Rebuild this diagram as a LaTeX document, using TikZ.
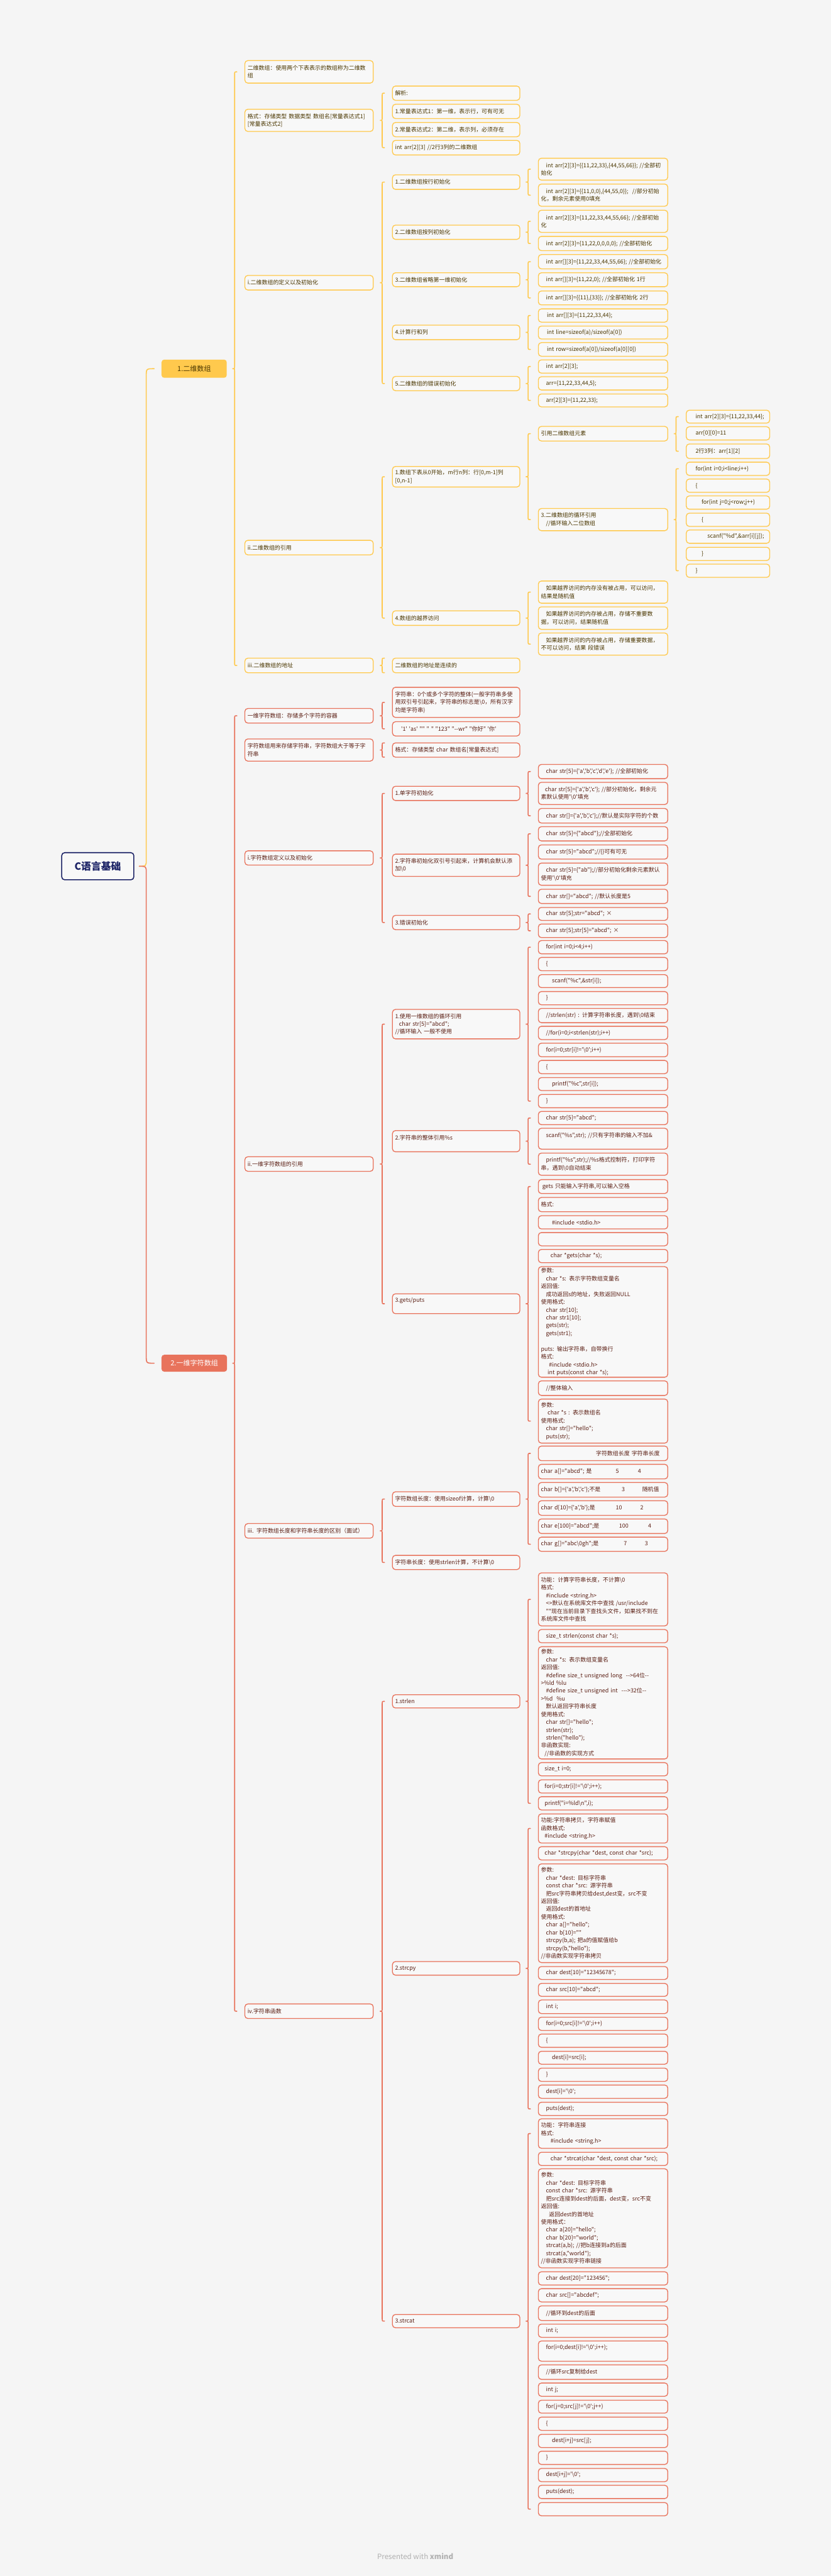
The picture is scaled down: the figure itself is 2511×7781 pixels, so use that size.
\documentclass[tikz,border=0pt]{standalone}
\usepackage{fontspec}
\newfontfamily\cjk{Noto Sans CJK SC}
\usetikzlibrary{calc}
\definecolor{bg}{HTML}{F5F5F5}
\definecolor{bfill}{HTML}{F8F8F8}
\definecolor{ycol}{HTML}{FFC94D}
\definecolor{ytxt}{HTML}{4A3600}
\definecolor{ocol}{HTML}{E8735C}
\definecolor{otxt}{HTML}{5A1D12}
\definecolor{navy}{HTML}{1C2366}
\definecolor{foot}{HTML}{B0B0B0}
\newcommand\fixrs{\rightskip=0pt plus 1fil minus 200pt\relax}
\newcommand\nb[6]{\node[#1,minimum height=#5pt] (#2) at (#3,#4) {\fixrs #6};}
\newcommand\brc[4]{\draw[#1] let \p1=(#3), \p2=(#4), \p3=(#2.east) in
 (\x1-24pt,\y1) .. controls (\x1-31pt,\y1) .. (\x1-31pt,\y1-8pt) -- (\x1-31pt,\y3+8pt)
 .. controls (\x1-31pt,\y3) .. (\x1-38pt,\y3) .. controls (\x1-31pt,\y3) .. (\x1-31pt,\y3-8pt)
 -- (\x1-31pt,\y2+8pt) .. controls (\x1-31pt,\y2) .. (\x1-24pt,\y2);}
\tikzset{
 bxbase/.style={draw, rounded corners=9pt, line width=2.5pt, fill=bfill, inner xsep=8pt, inner ysep=2pt,
   align=left, font=\cjk\fontsize{17}{23.6}\selectfont, anchor=north west, outer sep=0pt},
 Y2/.style={bxbase, draw=ycol, text=ytxt, text width=372pt},
 Y3/.style={bxbase, draw=ycol, text=ytxt, text width=369pt},
 Y4/.style={bxbase, draw=ycol, text=ytxt, text width=375pt},
 Y5/.style={bxbase, draw=ycol, text=ytxt, text width=236pt},
 O2/.style={bxbase, draw=ocol, text=otxt, text width=372pt},
 O3/.style={bxbase, draw=ocol, text=otxt, text width=369pt},
 O4/.style={bxbase, draw=ocol, text=otxt, text width=375pt},
 yl/.style={draw=ycol, line width=3pt, line cap=round},
 ol/.style={draw=ocol, line width=3pt, line cap=round},
 lone/.style={rounded corners=8pt, anchor=north west, align=center, inner sep=0pt,
   font=\cjk\fontsize{21}{25}\selectfont},
}
\begin{document}
\begin{tikzpicture}[x=1pt,y=-1pt]
\useasboundingbox (0,0) rectangle (2511,7781);
\fill[bg] (0,0) rectangle (2511,7781);

% root and level 1
\node[draw=navy, line width=3pt, rounded corners=9pt, fill=bfill, text=navy, anchor=north west,
  minimum width=218pt, minimum height=82pt, inner sep=0pt,
  font=\cjk\fontsize{30}{34}\selectfont\bfseries] (root) at (185,2574) {C语言基础};
\node[lone, fill=ycol, text=ytxt, minimum width=197pt, minimum height=55pt] (Y) at (488,1086) {1.二维数组};
\node[lone, fill=ocol, text=white, minimum width=198pt, minimum height=51pt] (O) at (488,4092) {2.一维字符数组};
\draw[yl] let \p1=(Y.west), \p3=(root.east) in (\x1-67pt,\y3) .. controls (\x1-46pt,\y3) .. (\x1-46pt,\y3+21pt) -- (\x1-46pt,\y1-22pt) .. controls (\x1-46pt,\y1) .. (\x1-22pt,\y1);
\draw[ol] let \p1=(O.west), \p3=(root.east) in (\x1-67pt,\y3) .. controls (\x1-46pt,\y3) .. (\x1-46pt,\y3-21pt) -- (\x1-46pt,\y1+22pt) .. controls (\x1-46pt,\y1) .. (\x1-22pt,\y1);

% ===== yellow branch =====
\nb{Y2}{a1}{740}{183}{68}{二维数组：使用两个下表表示的数组称为二维数\\组}
\nb{Y2}{a2}{740}{330}{67}{格式：存储类型 数据类型 数组名[常量表达式1]\\{}[常量表达式2]}
\nb{Y2}{a3}{740}{832}{44}{i.二维数组的定义以及初始化}
\nb{Y2}{a4}{740}{1632}{44}{ii.二维数组的引用}
\nb{Y2}{a5}{740}{1988}{44}{iii.二维数组的地址}

\nb{Y3}{b1}{1186}{260}{43}{解析:}
\nb{Y3}{b2}{1186}{315}{43}{1.常量表达式1：第一维，表示行，可有可无}
\nb{Y3}{b3}{1186}{370}{43}{2.常量表达式2：第二维，表示列，必须存在}
\nb{Y3}{b4}{1186}{424}{44}{int arr[2][3] //2行3列的二维数组}

\nb{Y3}{c1}{1186}{528}{44}{1.二维数组按行初始化}
\nb{Y3}{c2}{1186}{680}{43}{2.二维数组按列初始化}
\nb{Y3}{c3}{1186}{824}{42}{3.二维数组省略第一维初始化}
\nb{Y3}{c4}{1186}{982}{44}{4.计算行和列}
\nb{Y3}{c5}{1186}{1137}{43}{5.二维数组的错误初始化}

\nb{Y4}{d1}{1627}{478}{66}{\hspace*{15pt}int arr[2][3]=\{\{11,22,33\},\{44,55,66\}\}; //全部初\\始化}
\nb{Y4}{d2}{1627}{556}{67}{\hspace*{15pt}int arr[2][3]=\{\{11,0,0\},\{44,55,0\}\};\hspace{12pt}//部分初始\\化，剩余元素使用0填充}
\nb{Y4}{d3}{1627}{635}{67}{\hspace*{15pt}int arr[2][3]=\{11,22,33,44,55,66\}; //全部初始\\化}
\nb{Y4}{d4}{1627}{714}{43}{\hspace*{15pt}int arr[2][3]=\{11,22,0,0,0,0\}; //全部初始化}
\nb{Y4}{d5}{1627}{769}{43}{\hspace*{15pt}int arr[][3]=\{11,22,33,44,55,66\}; //全部初始化}
\nb{Y4}{d6}{1627}{824}{42}{\hspace*{15pt}int arr[][3]=\{11,22,0\}; //全部初始化 1行}
\nb{Y4}{d7}{1627}{879}{42}{\hspace*{15pt}int arr[][3]=\{\{11\},\{33\}\}; //全部初始化 2行}
\nb{Y4}{d8}{1627}{933}{40}{\hspace*{18pt}int arr[][3]=\{11,22,33,44\};}
\nb{Y4}{d9}{1627}{985}{39}{\hspace*{18pt}int line=sizeof(a)/sizeof(a[0])}
\nb{Y4}{d10}{1627}{1035}{41}{\hspace*{18pt}int row=sizeof(a[0])/sizeof(a[0][0])}
\nb{Y4}{d11}{1627}{1087}{40}{\hspace*{15pt}int arr[2][3];}
\nb{Y4}{d12}{1627}{1138}{40}{\hspace*{15pt}arr=\{11,22,33,44,5\};}
\nb{Y4}{d13}{1627}{1190}{39}{\hspace*{15pt}arr[2][3]=\{11,22,33\};}

\nb{Y3}{e1}{1186}{1409}{62}{1.数组下表从0开始，m行n列：行[0,m-1]列\\{}[0,n-1]}
\nb{Y3}{e2}{1186}{1845}{44}{4.数组的越界访问}
\nb{Y3}{e3}{1186}{1988}{44}{二维数组的地址是连续的}

\nb{Y4}{f1}{1627}{1288}{44}{引用二维数组元素}
\nb{Y4}{f2}{1627}{1536}{67}{3.二维数组的循环引用\\\hspace*{15pt}//循环输入二位数组}
\nb{Y4}{f3}{1627}{1755}{67}{\hspace*{15pt}如果越界访问的内存没有被占用，可以访问，\\结果是随机值}
\nb{Y4}{f4}{1627}{1833}{68}{\hspace*{15pt}如果越界访问的内存被占用，存储不重要数\\据，可以访问，结果随机值}
\nb{Y4}{f5}{1627}{1912}{67}{\hspace*{15pt}如果越界访问的内存被占用，存储重要数据，\\不可以访问，结果 段错误}

\nb{Y5}{g1}{2074}{1239}{39}{\hspace*{20pt}int arr[2][3]=\{11,22,33,44\};}
\nb{Y5}{g2}{2074}{1289}{40}{\hspace*{20pt}arr[0][0]=11}
\nb{Y5}{g3}{2074}{1341}{44}{\hspace*{20pt}2行3列：arr[1][2]}
\nb{Y5}{g4}{2074}{1396}{40}{\hspace*{20pt}for(int i=0;i<line;i++)}
\nb{Y5}{g5}{2074}{1447}{40}{\hspace*{20pt}\{}
\nb{Y5}{g6}{2074}{1498}{40}{\hspace*{38pt}for(int j=0;j<row;j++)}
\nb{Y5}{g7}{2074}{1550}{40}{\hspace*{38pt}\{}
\nb{Y5}{g8}{2074}{1601}{40}{\hspace*{56pt}scanf("\%d",\&arr[i][j]);}
\nb{Y5}{g9}{2074}{1653}{40}{\hspace*{38pt}\}}
\nb{Y5}{g10}{2074}{1704}{40}{\hspace*{20pt}\}}

\brc{yl}{Y}{a1.west}{a5.west}
\brc{yl}{a2}{b1.west}{b4.west}
\brc{yl}{a3}{c1.west}{c5.west}
\brc{yl}{c1}{d1.west}{d2.west}
\brc{yl}{c2}{d3.west}{d4.west}
\brc{yl}{c3}{d5.west}{d7.west}
\brc{yl}{c4}{d8.west}{d10.west}
\brc{yl}{c5}{d11.west}{d13.west}
\brc{yl}{a4}{e1.west}{e2.west}
\brc{yl}{e1}{f1.west}{f2.west}
\brc{yl}{f1}{g1.west}{g3.west}
\brc{yl}{f2}{g4.west}{g10.west}
\brc{yl}{e2}{f3.west}{f5.west}
\brc{yl}{a5}{e3.north west}{e3.south west}

% ===== orange branch =====
\nb{O2}{p1}{740}{2140}{44}{一维字符数组：存储多个字符的容器}
\nb{O2}{p2}{740}{2232}{67}{字符数组用来存储字符串，字符数组大于等于字\\符串}
\nb{O2}{p3}{740}{2570}{43}{i.字符数组定义以及初始化}
\nb{O2}{p4}{740}{3494}{44}{ii.一维字符数组的引用}
\nb{O2}{p5}{740}{4602}{44}{iii. 字符数组长度和字符串长度的区别（面试）}
\nb{O2}{p6}{740}{6053}{44}{iv.字符串函数}

\nb{O3}{q1}{1186}{2076}{91}{字符串：0个或多个字符的整体(一般字符串多使\\用双引号引起来，字符串的标志是\textbackslash 0，所有汉字\\均是字符串)}
\nb{O3}{q2}{1186}{2180}{43}{\hspace*{18pt}'1'\hspace{5pt}'as'\hspace{5pt}""\hspace{5pt}" "\hspace{5pt}"123"\hspace{5pt}"--wr"\hspace{5pt}"你好"\hspace{5pt}'你'}
\nb{O3}{q3}{1186}{2244}{43}{格式：存储类型 char 数组名[常量表达式]}
\nb{O3}{q4}{1186}{2375}{43}{1.单字符初始化}
\nb{O3}{q5}{1186}{2580}{67}{2.字符串初始化双引号引起来，计算机会默认添\\加\textbackslash 0}
\nb{O3}{q6}{1186}{2765}{43}{3.错误初始化}
\nb{O3}{q7}{1186}{3049}{89}{1.使用一维数组的循环引用\\\hspace*{12pt}char str[5]="abcd";\\//循环输入 一般不使用}
\nb{O3}{q8}{1186}{3415}{64}{2.字符串的整体引用\%s\\\mbox{}}
\nb{O3}{q9}{1186}{3908}{60}{3.gets/puts\\\mbox{}}
\nb{O3}{q10}{1186}{4506}{44}{字符数组长度：使用sizeof计算，计算\textbackslash 0}
\nb{O3}{q11}{1186}{4698}{43}{字符串长度：使用strlen计算，不计算\textbackslash 0}
\nb{O3}{q12}{1186}{5119}{40}{1.strlen}
\nb{O3}{q13}{1186}{5925}{41}{2.strcpy}
\nb{O3}{q14}{1186}{6991}{40}{3.strcat}

\nb{O4}{r1}{1627}{2309}{43}{\hspace*{15pt}char str[5]=\{'a','b','c','d','e'\}; //全部初始化}
\nb{O4}{r2}{1627}{2363}{67}{\hspace*{12pt}char str[5]=\{'a','b','c'\}; //部分初始化，剩余元\\素默认使用'\textbackslash 0'填充}
\nb{O4}{r3}{1627}{2442}{44}{\hspace*{15pt}char str[]=\{'a','b','c'\};//默认是实际字符的个数}
\nb{O4}{r4}{1627}{2497}{43}{\hspace*{15pt}char str[5]=\{"abcd"\};//全部初始化}
\nb{O4}{r5}{1627}{2552}{43}{\hspace*{15pt}char str[5]="abcd";//\{\}可有可无}
\nb{O4}{r6}{1627}{2607}{67}{\hspace*{15pt}char str[5]=\{"ab"\};//部分初始化剩余元素默认\\使用'\textbackslash 0'填充}
\nb{O4}{r7}{1627}{2686}{43}{\hspace*{15pt}char str[]="abcd"; //默认长度是5}
\nb{O4}{r8}{1627}{2741}{39}{\hspace*{15pt}char str[5];str="abcd"; ×}
\nb{O4}{r9}{1627}{2791}{41}{\hspace*{15pt}char str[5];str[5]="abcd"; ×}
\nb{O4}{r10}{1627}{2841}{40}{\hspace*{15pt}for(int i=0;i<4;i++)}
\nb{O4}{r11}{1627}{2892}{40}{\hspace*{15pt}\{}
\nb{O4}{r12}{1627}{2944}{39}{\hspace*{33pt}scanf("\%c",\&str[i]);}
\nb{O4}{r13}{1627}{2995}{40}{\hspace*{15pt}\}}
\nb{O4}{r14}{1627}{3046}{43}{\hspace*{15pt}//strlen(str) : 计算字符串长度，遇到\textbackslash 0结束}
\nb{O4}{r15}{1627}{3100}{40}{\hspace*{15pt}//for(i=0;i<strlen(str);i++)}
\nb{O4}{r16}{1627}{3151}{41}{\hspace*{15pt}for(i=0;str[i]!='\textbackslash 0';i++)}
\nb{O4}{r17}{1627}{3203}{40}{\hspace*{15pt}\{}
\nb{O4}{r18}{1627}{3255}{39}{\hspace*{33pt}printf("\%c",str[i]);}
\nb{O4}{r19}{1627}{3306}{40}{\hspace*{15pt}\}}
\nb{O4}{r20}{1627}{3357}{40}{\hspace*{15pt}char str[5]="abcd";}
\nb{O4}{r21}{1627}{3408}{63}{\hspace*{15pt}scanf("\%s",str); //只有字符串的输入不加\&\\\mbox{}}
\nb{O4}{r22}{1627}{3483}{67}{\hspace*{15pt}printf("\%s",str);//\%s格式控制符，打印字符\\串，遇到\textbackslash 0自动结束}
\nb{O4}{r23}{1627}{3563}{42}{\hspace*{4pt}gets 只能输入字符串,可以输入空格}
\nb{O4}{r24}{1627}{3617}{43}{格式:}
\nb{O4}{r25}{1627}{3672}{40}{\hspace*{33pt}\#include <stdio.h>}
\nb{O4}{r26}{1627}{3723}{40}{}
\nb{O4}{r27}{1627}{3774}{40}{\hspace*{29pt}char *gets(char *s);}
\nb{O4}{r28}{1627}{3826}{334}{参数:\\\hspace*{15pt}char *s: 表示字符数组变量名\\返回值:\\\hspace*{15pt}成功返回s的地址，失败返回NULL\\使用格式:\\\hspace*{15pt}char str[10];\\\hspace*{15pt}char str1[10];\\\hspace*{15pt}gets(str);\\\hspace*{15pt}gets(str1);\\\mbox{}\\puts: 输出字符串，自带换行\\格式:\\\hspace*{24pt}\#include <stdio.h>\\\hspace*{20pt}int puts(const char *s);}
\nb{O4}{r29}{1627}{4171}{44}{\hspace*{15pt}//整体输入}
\nb{O4}{r30}{1627}{4226}{133}{参数:\\\hspace*{20pt}char *s : 表示数组名\\使用格式:\\\hspace*{15pt}char str[]="hello";\\\hspace*{15pt}puts(str);}
\nb{O4}{r31}{1627}{4368}{44}{\hspace*{166pt}字符数组长度 字符串长度}
\nb{O4}{r32}{1627}{4423}{44}{\makebox[226pt][l]{char a[]="abcd"; 是}\makebox[67pt][l]{5}4}
\nb{O4}{r33}{1627}{4478}{44}{\makebox[244pt][l]{char b[]=\{'a','b','c'\};不是}\makebox[62pt][l]{3}随机值}
\nb{O4}{r34}{1627}{4533}{44}{\makebox[226pt][l]{char d[10]=\{'a','b'\};是}\makebox[74pt][l]{10}2}
\nb{O4}{r35}{1627}{4588}{44}{\makebox[236pt][l]{char e[100]="abcd";是}\makebox[88pt][l]{100}4}
\nb{O4}{r36}{1627}{4643}{43}{\makebox[250pt][l]{char g[]="abc\textbackslash 0gh";是}\makebox[64pt][l]{7}3}
\nb{O4}{r37}{1627}{4751}{160}{功能：计算字符串长度，不计算\textbackslash 0\\格式:\\\hspace*{15pt}\#include <string.h>\\\hspace*{15pt}<>默认在系统库文件中查找 /usr/include\\\hspace*{15pt}""现在当前目录下查找头文件，如果找不到在\\系统库文件中查找}
\nb{O4}{r38}{1627}{4922}{40}{\hspace*{15pt}size\_t strlen(const char *s);}
\nb{O4}{r39}{1627}{4974}{339}{参数:\\\hspace*{15pt}char *s: 表示数组变量名\\返回值:\\\hspace*{15pt}\#define size\_t unsigned long\ \ -->64位--\\>\%ld \%lu\\\hspace*{15pt}\#define size\_t unsigned int\ \ --->32位--\\>\%d\ \ \%u\\\hspace*{15pt}默认返回字符串长度\\使用格式:\\\hspace*{15pt}char str[]="hello";\\\hspace*{15pt}strlen(str);\\\hspace*{15pt}strlen("hello");\\非函数实现:\\\hspace*{11pt}//非函数的实现方式}
\nb{O4}{r40}{1627}{5324}{40}{\hspace*{11pt}size\_t i=0;}
\nb{O4}{r41}{1627}{5376}{40}{\hspace*{11pt}for(i=0;str[i]!='\textbackslash 0';i++);}
\nb{O4}{r42}{1627}{5427}{40}{\hspace*{11pt}printf("i=\%ld\textbackslash n",i);}
\nb{O4}{r43}{1627}{5479}{88}{功能:字符串拷贝，字符串赋值\\函数格式:\\\hspace*{11pt}\#include <string.h>}
\nb{O4}{r44}{1627}{5578}{40}{\hspace*{11pt}char *strcpy(char *dest, const char *src);}
\nb{O4}{r45}{1627}{5630}{298}{参数:\\\hspace*{15pt}char *dest: 目标字符串\\\hspace*{15pt}const char *src: 源字符串\\\hspace*{15pt}把src字符串拷贝给dest,dest变，src不变\\返回值:\\\hspace*{15pt}返回dest的首地址\\使用格式:\\\hspace*{15pt}char a[]="hello";\\\hspace*{15pt}char b[10]=""\\\hspace*{15pt}strcpy(b,a); 把a的值赋值给b\\\hspace*{15pt}strcpy(b,"hello");\\//非函数实现字符串拷贝}
\nb{O4}{r46}{1627}{5940}{39}{\hspace*{15pt}char dest[10]="12345678";}
\nb{O4}{r47}{1627}{5991}{39}{\hspace*{15pt}char src[10]="abcd";}
\nb{O4}{r48}{1627}{6041}{41}{\hspace*{15pt}int i;}
\nb{O4}{r49}{1627}{6093}{40}{\hspace*{15pt}for(i=0;src[i]!='\textbackslash 0';i++)}
\nb{O4}{r50}{1627}{6144}{40}{\hspace*{15pt}\{}
\nb{O4}{r51}{1627}{6196}{39}{\hspace*{33pt}dest[i]=src[i];}
\nb{O4}{r52}{1627}{6247}{40}{\hspace*{15pt}\}}
\nb{O4}{r53}{1627}{6298}{40}{\hspace*{15pt}dest[i]='\textbackslash 0';}
\nb{O4}{r54}{1627}{6350}{40}{\hspace*{15pt}puts(dest);}
\nb{O4}{r55}{1627}{6400}{89}{功能：字符串连接\\格式:\\\hspace*{29pt}\#include <string.h>}
\nb{O4}{r56}{1627}{6501}{40}{\hspace*{29pt}char *strcat(char *dest, const char *src);}
\nb{O4}{r57}{1627}{6551}{299}{参数:\\\hspace*{15pt}char *dest: 目标字符串\\\hspace*{15pt}const char *src: 源字符串\\\hspace*{15pt}把src连接到dest的后面，dest变，src不变\\返回值:\\\hspace*{24pt}返回dest的首地址\\使用格式：\\\hspace*{15pt}char a[20]="hello";\\\hspace*{15pt}char b[20]="world";\\\hspace*{15pt}strcat(a,b); //把b连接到a的后面\\\hspace*{15pt}strcat(a,"world");\\//非函数实现字符串链接}
\nb{O4}{r58}{1627}{6862}{40}{\hspace*{15pt}char dest[20]="123456";}
\nb{O4}{r59}{1627}{6913}{40}{\hspace*{15pt}char src[]="abcdef";}
\nb{O4}{r60}{1627}{6965}{44}{\hspace*{15pt}//循环到dest的后面}
\nb{O4}{r61}{1627}{7020}{40}{\hspace*{15pt}int i;}
\nb{O4}{r62}{1627}{7071}{61}{\hspace*{15pt}for(i=0;dest[i]!='\textbackslash 0';i++);\\\mbox{}}
\nb{O4}{r63}{1627}{7143}{44}{\hspace*{15pt}//循环src复制给dest}
\nb{O4}{r64}{1627}{7198}{40}{\hspace*{15pt}int j;}
\nb{O4}{r65}{1627}{7250}{39}{\hspace*{15pt}for(j=0;src[j]!='\textbackslash 0';j++)}
\nb{O4}{r66}{1627}{7301}{40}{\hspace*{15pt}\{}
\nb{O4}{r67}{1627}{7353}{40}{\hspace*{33pt}dest[i+j]=src[j];}
\nb{O4}{r68}{1627}{7404}{40}{\hspace*{15pt}\}}
\nb{O4}{r69}{1627}{7456}{40}{\hspace*{15pt}dest[i+j]='\textbackslash 0';}
\nb{O4}{r70}{1627}{7507}{40}{\hspace*{15pt}puts(dest);}
\nb{O4}{r71}{1627}{7559}{40}{}

\brc{ol}{O}{p1.west}{p6.west}
\brc{ol}{p1}{q1.west}{q2.west}
\brc{ol}{p2}{q3.north west}{q3.south west}
\brc{ol}{p3}{q4.west}{q6.west}
\brc{ol}{q4}{r1.west}{r3.west}
\brc{ol}{q5}{r4.west}{r7.west}
\brc{ol}{q6}{r8.west}{r9.west}
\brc{ol}{p4}{q7.west}{q9.west}
\brc{ol}{q7}{r10.west}{r19.west}
\brc{ol}{q8}{r20.west}{r22.west}
\brc{ol}{q9}{r23.west}{r30.west}
\brc{ol}{p5}{q10.west}{q11.west}
\brc{ol}{q10}{r31.west}{r36.west}
\brc{ol}{p6}{q12.west}{q14.west}
\brc{ol}{q12}{r37.west}{r42.west}
\brc{ol}{q13}{r43.west}{r54.west}
\brc{ol}{q14}{r55.west}{r71.west}

\node[text=foot, font=\cjk\fontsize{22}{26}\selectfont] (ft) at (1255,7722) {Presented with \textbf{xmind}};
\end{tikzpicture}
\end{document}
